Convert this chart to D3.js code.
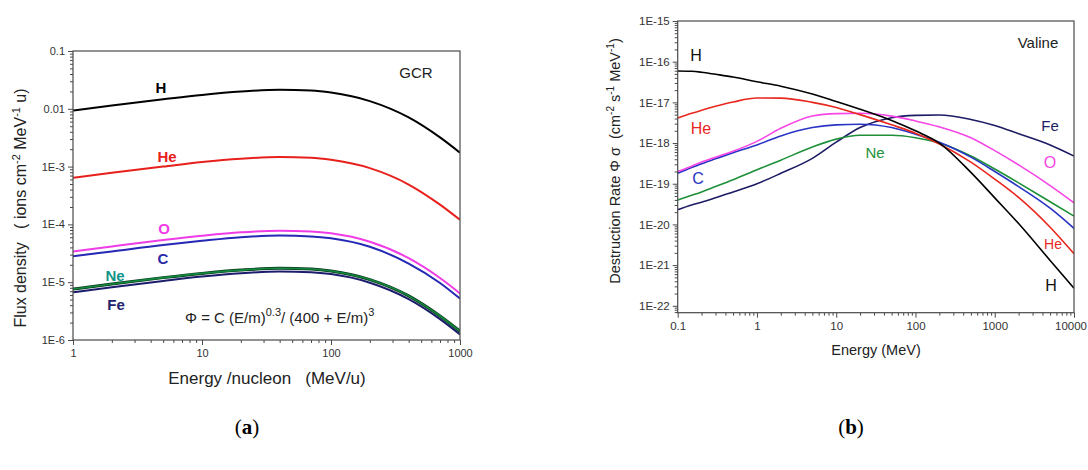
<!DOCTYPE html>
<html>
<head>
<meta charset="utf-8">
<script src="https://cdn.jsdelivr.net/npm/d3@7"></script>
<style>
  html, body { margin: 0; padding: 0; background: #fff; }
  svg { display: block; }
  text { font-family: "Liberation Sans", Arial, sans-serif; }
</style>
</head>
<body>
<svg id="chart" width="1088" height="470"></svg>
<script>
// ---------- Panel (a) data: GCR flux density ----------
const energyA = [1, 2, 5, 10, 20, 40, 70, 100, 200, 400, 700, 1000];
const fluxH  = [0.0093, 0.0114, 0.0146, 0.0174, 0.0199, 0.0213, 0.0207, 0.0191, 0.0136, 0.0071, 0.0032, 0.00174];
const fluxHe = [6.4e-4, 7.8e-4, 1.0e-3, 1.2e-3, 1.37e-3, 1.46e-3, 1.42e-3, 1.31e-3, 9.4e-4, 4.9e-4, 2.2e-4, 1.2e-4];
const fluxO  = [3.4e-5, 4.15e-5, 5.35e-5, 6.35e-5, 7.3e-5, 7.8e-5, 7.55e-5, 7.0e-5, 5.0e-5, 2.6e-5, 1.18e-5, 6.4e-6];
const fluxC  = [2.8e-5, 3.4e-5, 4.4e-5, 5.2e-5, 6.0e-5, 6.4e-5, 6.2e-5, 5.75e-5, 4.1e-5, 2.1e-5, 9.7e-6, 5.2e-6];
const fluxNe = [7.6e-6, 9.3e-6, 1.2e-5, 1.42e-5, 1.62e-5, 1.74e-5, 1.69e-5, 1.56e-5, 1.11e-5, 5.8e-6, 2.6e-6, 1.42e-6];
const fluxFe = [6.7e-6, 8.2e-6, 1.05e-5, 1.25e-5, 1.43e-5, 1.53e-5, 1.49e-5, 1.38e-5, 9.8e-6, 5.1e-6, 2.3e-6, 1.25e-6];
const seriesA = ["H", "He", "O", "C", "Ne", "Fe"];
const tickXA = [1, 10, 100, 1000];
const tickXALabels = ["1", "10", "100", "1000"];
const tickYA = [1e-6, 1e-5, 1e-4, 1e-3, 0.01, 0.1];
const tickYALabels = ["1E-6", "1E-5", "1E-4", "1E-3", "0.01", "0.1"];

// ---------- Panel (b) data: Valine destruction rate ----------
const energyB = [0.1, 0.15, 0.2, 0.3, 0.5, 1, 2, 5, 10, 20, 50, 100, 200, 500, 1000, 2000, 5000, 10000];
const rateH  = [5.9e-17, 5.8e-17, 5.5e-17, 4.9e-17, 4.2e-17, 3.2e-17, 2.5e-17, 1.6e-17, 1.05e-17, 6.8e-18, 3.6e-18, 2.0e-18, 1.0e-18, 1.9e-19, 4.5e-20, 1.05e-20, 1.3e-21, 2.7e-22];
const rateHe = [4.1e-18, 5.4e-18, 6.4e-18, 8.0e-18, 1.02e-17, 1.28e-17, 1.27e-17, 1.0e-17, 7.5e-18, 5.0e-18, 2.8e-18, 1.75e-18, 9.5e-19, 3.4e-19, 1.3e-19, 4.6e-20, 8.5e-21, 1.9e-21];
const rateO  = [2.0e-19, 2.7e-19, 3.4e-19, 4.5e-19, 6.3e-19, 1.1e-18, 2.3e-18, 4.6e-18, 5.3e-18, 5.4e-18, 4.6e-18, 3.5e-18, 2.5e-18, 1.35e-18, 6.5e-19, 2.9e-19, 9e-20, 3.4e-20];
const rateC  = [1.8e-19, 2.5e-19, 3.1e-19, 4.1e-19, 5.8e-19, 9e-19, 1.5e-18, 2.4e-18, 2.8e-18, 2.9e-18, 2.4e-18, 1.65e-18, 1.05e-18, 4.5e-19, 2.0e-19, 8.5e-20, 2.5e-20, 8e-21];
const rateNe = [4e-20, 5.2e-20, 6.3e-20, 8.5e-20, 1.25e-19, 2.2e-19, 3.8e-19, 8e-19, 1.25e-18, 1.55e-18, 1.55e-18, 1.35e-18, 1.0e-18, 4.8e-19, 2.3e-19, 1.05e-19, 3.6e-20, 1.6e-20];
const rateFe = [2.3e-20, 3.0e-20, 3.5e-20, 4.5e-20, 6.3e-20, 1.0e-19, 1.8e-19, 4.2e-19, 1.05e-18, 2.4e-18, 4.2e-18, 4.8e-18, 4.9e-18, 3.8e-18, 2.7e-18, 1.7e-18, 9e-19, 4.8e-19];
const seriesB = ["H", "He", "O", "C", "Ne", "Fe"];
const tickXB = [0.1, 1, 10, 100, 1000, 10000];
const tickXBLabels = ["0.1", "1", "10", "100", "1000", "10000"];
const tickYB = [1e-22, 1e-21, 1e-20, 1e-19, 1e-18, 1e-17, 1e-16, 1e-15];
const tickYBLabels = ["1E-22", "1E-21", "1E-20", "1E-19", "1E-18", "1E-17", "1E-16", "1E-15"];

// ---------- styles ----------
const colorsA = { H: "#000000", He: "#e8201c", O: "#f03ce6", C: "#2428b4", Ne: "#12893c", Fe: "#1c1c6c" };
const colorsB = { H: "#000000", He: "#e8281e", O: "#f646e6", C: "#2834c4", Ne: "#1e9038", Fe: "#1c1c64" };

const svg = d3.select("#chart");
const axisColor = "#4a4a4a";

function minorTicks(lo, hi) {
  const out = [];
  for (let e = Math.floor(Math.log10(lo)) - 1; e <= Math.ceil(Math.log10(hi)); e++) {
    for (let m = 2; m <= 9; m++) {
      const v = m * Math.pow(10, e);
      if (v > lo * 1.0001 && v < hi * 0.9999) out.push(v);
    }
  }
  return out;
}

function drawFrame(g, x, y, xTicks, xLabels, yTicks, yLabels, fontSize) {
  const [x0, x1] = x.range();
  const [y0, y1] = y.range(); // y0 bottom, y1 top
  // minor ticks
  g.append("g").attr("transform", `translate(0,${y0})`)
    .call(d3.axisBottom(x).tickValues(minorTicks(x.domain()[0], x.domain()[1])).tickSize(3).tickSizeOuter(0).tickFormat(""))
    .call(s => { s.select(".domain").remove(); s.selectAll("line").attr("stroke", axisColor); });
  g.append("g").attr("transform", `translate(${x0},0)`)
    .call(d3.axisLeft(y).tickValues(minorTicks(y.domain()[0], y.domain()[1])).tickSize(3).tickSizeOuter(0).tickFormat(""))
    .call(s => { s.select(".domain").remove(); s.selectAll("line").attr("stroke", axisColor); });
  // major ticks
  const xa = g.append("g").attr("transform", `translate(0,${y0})`)
    .call(d3.axisBottom(x).tickValues(xTicks).tickSize(5).tickSizeOuter(0).tickPadding(4)
      .tickFormat((d, i) => xLabels[i]))
    .call(s => {
      s.select(".domain").remove();
      s.selectAll("line").attr("stroke", axisColor);
      s.selectAll("text").attr("font-size", fontSize).attr("fill", "#333").attr("font-family", "Liberation Sans, Arial, sans-serif");
    });
  // keep the last x label inside the window
  xa.selectAll(".tick text").filter((d, i, n) => i === n.length - 1)
    .each(function () {
      const bb = this.getBBox();
      const t = d3.select(this.parentNode).attr("transform");
      const tx = +/translate\(([-\d.]+)/.exec(t)[1];
      const over = tx + bb.x + bb.width - 1087;
      if (over > 0) d3.select(this).attr("x", -over);
    });
  g.append("g").attr("transform", `translate(${x0},0)`)
    .call(d3.axisLeft(y).tickValues(yTicks).tickSize(5).tickSizeOuter(0).tickPadding(3)
      .tickFormat((d, i) => yLabels[i]))
    .call(s => {
      s.select(".domain").remove();
      s.selectAll("line").attr("stroke", axisColor);
      s.selectAll("text").attr("font-size", fontSize).attr("fill", "#333").attr("font-family", "Liberation Sans, Arial, sans-serif");
    });
  g.append("rect").attr("x", x0).attr("y", y1).attr("width", x1 - x0).attr("height", y0 - y1)
    .attr("fill", "none").attr("stroke", axisColor).attr("stroke-width", 1.2);
}

// ================= Panel (a) =================
{
  const g = svg.append("g");
  const x = d3.scaleLog().domain([1, 1000]).range([73, 460]);
  const y = d3.scaleLog().domain([1e-6, 0.1]).range([340, 51]);
  const dataA = { H: fluxH, He: fluxHe, O: fluxO, C: fluxC, Ne: fluxNe, Fe: fluxFe };
  const line = d3.line().x((d, i) => x(energyA[i])).y(d => y(d)).curve(d3.curveMonotoneX);
  const clip = g.append("clipPath").attr("id", "clipA");
  clip.append("rect").attr("x", 73).attr("y", 51).attr("width", 387).attr("height", 289);
  const lines = g.append("g").attr("clip-path", "url(#clipA)");
  ["Fe", "Ne", "C", "O", "He", "H"].forEach(k => {
    if (k === "Ne") {
      lines.append("path").attr("d", line(dataA[k])).attr("fill", "none")
        .attr("stroke", "#0c3a20").attr("stroke-width", 3);
    }
    lines.append("path").attr("d", line(dataA[k])).attr("fill", "none")
      .attr("stroke", colorsA[k]).attr("stroke-width", k === "Ne" ? 1.6 : 2);
  });
  drawFrame(g, x, y, tickXA, tickXALabels, tickYA, tickYALabels, 11);

  const lab = [
    { t: "H", x: 161, y: 93, c: "#000000" },
    { t: "He", x: 167, y: 162, c: "#e8201c" },
    { t: "O", x: 164, y: 234, c: "#f03ce6" },
    { t: "C", x: 163, y: 264, c: "#2a2aa8" },
    { t: "Ne", x: 115, y: 281, c: "#139489" },
    { t: "Fe", x: 116, y: 310, c: "#22226c" }
  ];
  g.selectAll("text.labA").data(lab).enter().append("text")
    .attr("x", d => d.x).attr("y", d => d.y).attr("text-anchor", "middle")
    .attr("font-size", 15).attr("font-weight", "bold").attr("fill", d => d.c).text(d => d.t);

  g.append("text").attr("x", 416).attr("y", 78).attr("text-anchor", "middle")
    .attr("font-size", 15).attr("fill", "#222").text("GCR");

  const f = g.append("text").attr("x", 185).attr("y", 323).attr("font-size", 15).attr("fill", "#222");
  f.append("tspan").text("Φ = C (E/m)");
  f.append("tspan").attr("dy", -7).attr("font-size", 11).text("0.3");
  f.append("tspan").attr("dy", 7).text("/ (400 + E/m)");
  f.append("tspan").attr("dy", -7).attr("font-size", 11).text("3");

  g.append("text").attr("x", 267).attr("y", 384).attr("text-anchor", "middle")
    .attr("font-size", 17).attr("fill", "#222").attr("xml:space", "preserve")
    .text("Energy /nucleon   (MeV/u)");

  const yt = g.append("text").attr("transform", "translate(26,208) rotate(-90)")
    .attr("text-anchor", "middle").attr("font-size", 16).attr("fill", "#222").attr("xml:space", "preserve");
  yt.append("tspan").text("Flux density   ( ions cm");
  yt.append("tspan").attr("dy", -6).attr("font-size", 11).text("-2");
  yt.append("tspan").attr("dy", 6).text(" MeV");
  yt.append("tspan").attr("dy", -6).attr("font-size", 11).text("-1");
  yt.append("tspan").attr("dy", 6).text(" u)");
}

// ================= Panel (b) =================
{
  const g = svg.append("g");
  const x = d3.scaleLog().domain([0.1, 10000]).range([677.7, 1074]);
  const y = d3.scaleLog().domain([Math.pow(10, -22.17), 1e-15]).range([312.7, 21]);
  const dataB = { H: rateH, He: rateHe, O: rateO, C: rateC, Ne: rateNe, Fe: rateFe };
  const line = d3.line().x((d, i) => x(energyB[i])).y(d => y(d)).curve(d3.curveMonotoneX);
  const clip = g.append("clipPath").attr("id", "clipB");
  clip.append("rect").attr("x", 677.7).attr("y", 21).attr("width", 396.3).attr("height", 291.7);
  const lines = g.append("g").attr("clip-path", "url(#clipB)");
  ["Fe", "Ne", "C", "O", "He", "H"].forEach(k => {
    lines.append("path").attr("d", line(dataB[k])).attr("fill", "none")
      .attr("stroke", colorsB[k]).attr("stroke-width", 1.6);
  });
  drawFrame(g, x, y, tickXB, tickXBLabels, tickYB, tickYBLabels, 11.5);

  const lab = [
    { t: "H", x: 696, y: 61, c: "#111", s: 16 },
    { t: "He", x: 701, y: 134, c: "#e8281e", s: 16 },
    { t: "C", x: 698, y: 184, c: "#2834c4", s: 16 },
    { t: "Ne", x: 875, y: 158, c: "#1e9038", s: 15 },
    { t: "Fe", x: 1050, y: 131, c: "#1c1c64", s: 15 },
    { t: "O", x: 1050, y: 168, c: "#f646e6", s: 16 },
    { t: "He", x: 1053, y: 249, c: "#e8281e", s: 14 },
    { t: "H", x: 1051, y: 291, c: "#111", s: 16 }
  ];
  g.selectAll("text.labB").data(lab).enter().append("text")
    .attr("x", d => d.x).attr("y", d => d.y).attr("text-anchor", "middle")
    .attr("font-size", d => d.s).attr("fill", d => d.c).text(d => d.t);

  g.append("text").attr("x", 1038).attr("y", 48).attr("text-anchor", "middle")
    .attr("font-size", 15).attr("fill", "#222").text("Valine");

  g.append("text").attr("x", 876).attr("y", 355).attr("text-anchor", "middle")
    .attr("font-size", 14.5).attr("fill", "#222").text("Energy (MeV)");

  const yt = g.append("text").attr("transform", "translate(620,161) rotate(-90)")
    .attr("text-anchor", "middle").attr("font-size", 14.5).attr("fill", "#222").attr("xml:space", "preserve");
  yt.append("tspan").text("Destruction Rate Φ σ  (cm");
  yt.append("tspan").attr("dy", -6).attr("font-size", 10).text("-2");
  yt.append("tspan").attr("dy", 6).text(" s");
  yt.append("tspan").attr("dy", -6).attr("font-size", 10).text("-1");
  yt.append("tspan").attr("dy", 6).text(" MeV");
  yt.append("tspan").attr("dy", -6).attr("font-size", 10).text("-1");
  yt.append("tspan").attr("dy", 6).text(")");
}

// ================= captions =================
[["a", 247], ["b", 851]].forEach(([c, cx]) => {
  const t = svg.append("text").attr("x", cx).attr("y", 434).attr("text-anchor", "middle")
    .attr("font-size", 21).attr("fill", "#000")
    .style("font-family", "'Liberation Serif', 'DejaVu Serif', serif");
  t.append("tspan").text("(");
  t.append("tspan").attr("font-weight", "bold").text(c);
  t.append("tspan").text(")");
});
</script>
</body>
</html>
